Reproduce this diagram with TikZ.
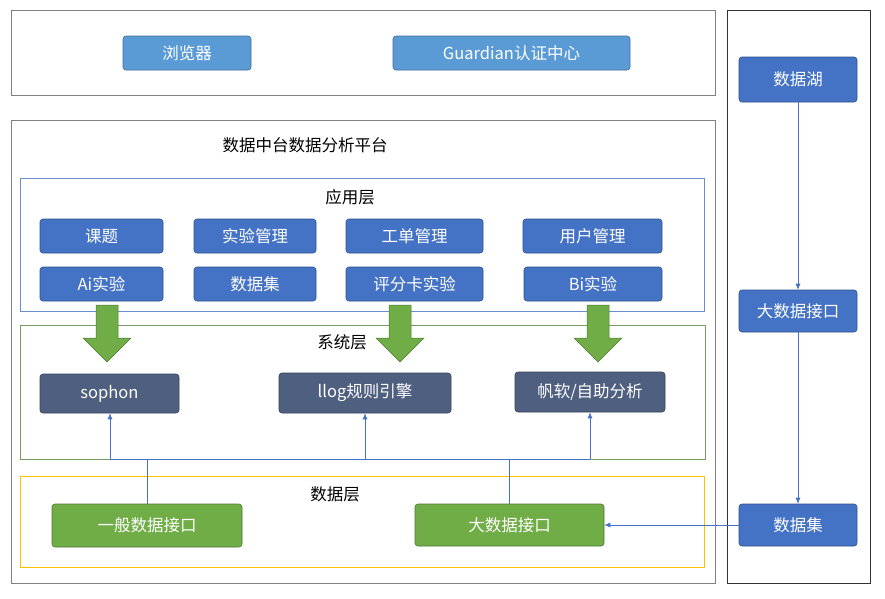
\documentclass[tikz,border=0pt]{standalone}
\usepackage{fontspec}
\setmainfont{Noto Sans CJK SC}
\begin{document}
\begin{tikzpicture}[x=1pt,y=-1pt,
  frame/.style={draw=#1,line width=0.7pt},
  btn/.style={rounded corners=3pt,draw=#1!70!black,fill=#1,text=white,font=\fontsize{16.5}{18}\selectfont,line width=0.6pt},
  lbl/.style={font=\fontsize{16.5}{18}\selectfont,text=black},
  con/.style={draw=DB,line width=0.7pt},
  arr/.style={con,-{Latex[length=6pt,width=5pt]}},
  garrow/.style={fill=ArrG,draw=ArrG!70!black,line width=0.5pt}]
\usetikzlibrary{arrows.meta}
\definecolor{LB}{HTML}{5B9BD5}
\definecolor{DB}{HTML}{4472C4}
\definecolor{SL}{HTML}{4E5F80}
\definecolor{GR}{HTML}{70AD47}
\definecolor{ArrG}{HTML}{70AD47}
\definecolor{YL}{HTML}{FFC000}
\useasboundingbox (0,0) rectangle (885,598);
\fill[white] (0,0) rectangle (885,598);
% frames
\draw[frame=gray] (11,10) rectangle (715,95);
\draw[frame=black!80] (727,10) rectangle (870,583);
\draw[frame=gray] (11,120) rectangle (715,583);
\draw[frame=DB!80] (20,178) rectangle (704,311);
\draw[frame=GR!60!gray] (20,325) rectangle (705,459);
\draw[frame=YL] (20,476) rectangle (704,567);
\node[lbl] (title) at (305,145) {数据中台数据分析平台};
\node[lbl] (app) at (350,197) {应用层};
\node[lbl] (sys) at (342,342) {系统层};
\node[lbl] (dat) at (335,494) {数据层};
% top
\node[btn=LB,minimum width=128pt,minimum height=34pt] (browser) at (187,53) {浏览器};
\node[btn=LB,minimum width=237pt,minimum height=34pt] (guard) at (511.5,53) {Guardian认证中心};
% right column
\node[btn=DB,minimum width=118pt,minimum height=45pt] (lake) at (798,79.5) {数据湖};
\node[btn=DB,minimum width=118pt,minimum height=42pt] (bigr) at (798,311) {大数据接口};
\node[btn=DB,minimum width=118pt,minimum height=42pt] (dset) at (798,525) {数据集};
% app layer
\node[btn=DB,minimum width=123pt,minimum height=34pt] (a1) at (101.5,236) {课题};
\node[btn=DB,minimum width=122pt,minimum height=34pt] (a2) at (255,236) {实验管理};
\node[btn=DB,minimum width=137pt,minimum height=34pt] (a3) at (414.5,236) {工单管理};
\node[btn=DB,minimum width=139pt,minimum height=34pt] (a4) at (592.5,236) {用户管理};
\node[btn=DB,minimum width=123pt,minimum height=34pt] (b1) at (101.5,284) {Ai实验};
\node[btn=DB,minimum width=122pt,minimum height=34pt] (b2) at (255,284) {数据集};
\node[btn=DB,minimum width=137pt,minimum height=34pt] (b3) at (414.5,284) {评分卡实验};
\node[btn=DB,minimum width=138pt,minimum height=34pt] (b4) at (593,284) {Bi实验};
% green arrows
\foreach \cx in {107,400,598}{
  \draw[garrow] (\cx-11,305) -- (\cx+11,305) -- (\cx+11,338) -- (\cx+24,338) -- (\cx,362) -- (\cx-24,338) -- (\cx-11,338) -- cycle;}
% system layer
\node[btn=SL,minimum width=139pt,minimum height=39pt] (s1) at (109.5,393.5) {sophon};
\node[btn=SL,minimum width=172pt,minimum height=40pt] (s2) at (365,393) {llog规则引擎};
\node[btn=SL,minimum width=150pt,minimum height=40pt] (s3) at (590,392) {帆软/自助分析};
% data layer
\node[btn=GR,minimum width=190pt,minimum height=43pt] (d1) at (147,525.5) {一般数据接口};
\node[btn=GR,minimum width=189pt,minimum height=42pt] (d2) at (509.5,525) {大数据接口};
% connectors
\coordinate (j1) at (110,459);
\coordinate (j3) at (590,459);
\draw[con] (j1) -- (j3);
\draw[arr] (j1) -- (s1.south -| j1);
\draw[arr] (365,459) -- (s2.south);
\draw[arr] (j3) -- (s3.south -| j3);
\draw[con] (d1.north) -- (147,459);
\draw[con] (d2.north) -- (509.5,459);
\draw[arr] (lake) -- (bigr);
\draw[arr] (bigr) -- (dset);
\draw[arr] (dset) -- (d2);
\end{tikzpicture}
\end{document}
